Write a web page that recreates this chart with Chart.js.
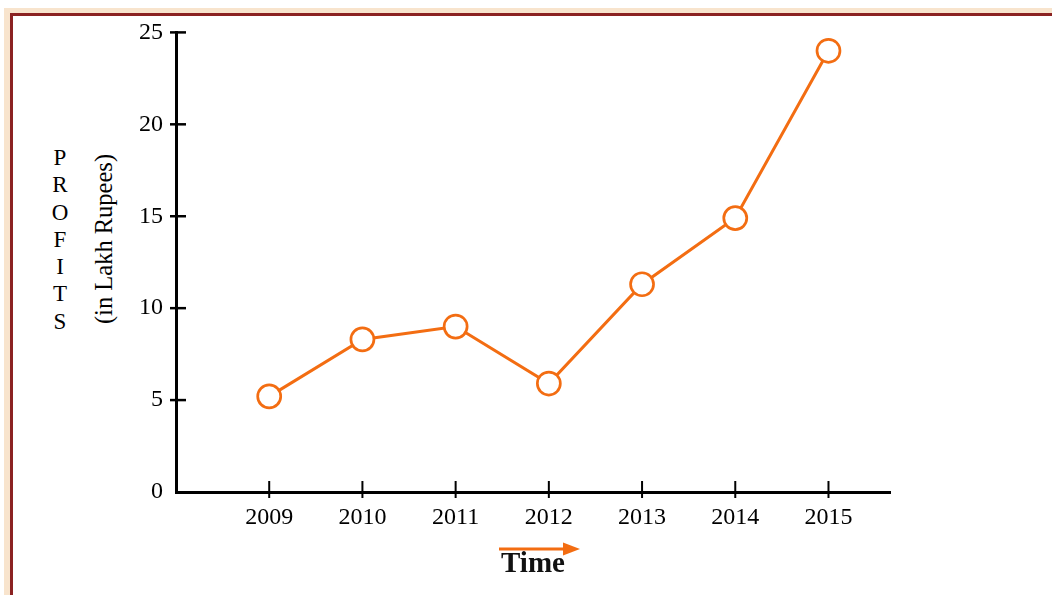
<!DOCTYPE html>
<html>
<head>
<meta charset="utf-8">
<title>Profits</title>
<script src="https://cdn.jsdelivr.net/npm/chart.js@4.4.0/dist/chart.umd.min.js"></script>
<style>
	body { margin: 0; width: 1052px; height: 595px; overflow: hidden; background: #fff; position: relative; font-family: "Liberation Serif", serif; }
	#band { position: absolute; left: 4px; top: 8px; width: 1200px; height: 700px; background: #f8e4cd; }
	#box { position: absolute; left: 10px; top: 13px; width: 1200px; height: 700px; background: #fff; border: 3px solid #8b2222; box-sizing: border-box; }
	#wrap { position: absolute; left: 13px; top: 16px; width: 1039px; height: 579px; }
	#profits { position: absolute; left: 48px; top: 144px; width: 24px; text-align: center; font-size: 23px; line-height: 27.3px; color: #000; }
	#unit { position: absolute; left: 104px; top: 239px; transform: translate(-50%, -50%) rotate(-90deg); font-size: 24.5px; white-space: nowrap; color: #000; }
</style>
</head>
<body>
<div id="band"></div>
<div id="box"></div>
<div id="profits">P<br>R<br>O<br>F<br>I<br>T<br>S</div>
<div id="unit">(in Lakh Rupees)</div>
<div id="wrap"><canvas id="profitChart"></canvas></div>

<script>
// data
const years = [2009, 2010, 2011, 2012, 2013, 2014, 2015];
const profits = [5.2, 8.3, 9, 5.9, 11.3, 14.9, 24];
const yTicks = [0, 5, 10, 15, 20, 25];
const xTitle = 'Time';

const orange = '#f36d12';

// tick marks that cross the axis line, plus the arrow above "Time"
const axisMarks = {
	id: 'axisMarks',
	afterDraw(chart) {
		const ctx = chart.ctx;
		const xs = chart.scales.x;
		const ys = chart.scales.y;
		const line = (x1, y1, x2, y2) => {
			ctx.beginPath();
			ctx.moveTo(x1, y1);
			ctx.lineTo(x2, y2);
			ctx.stroke();
		};
		ctx.save();
		ctx.strokeStyle = '#000';
		ctx.lineWidth = 2.5;
		ys.ticks.forEach(t => {
			if (t.value === 0) return;
			const py = ys.getPixelForValue(t.value);
			line(xs.left - 6, py, xs.left + 10, py);
		});
		ctx.lineWidth = 2;
		xs.ticks.forEach(t => {
			const px = xs.getPixelForValue(t.value);
			line(px, ys.bottom - 11, px, ys.bottom + 6);
		});

		// arrow
		const cx = (xs.left + xs.right) / 2;
		const ay = xs.bottom - 46;
		ctx.strokeStyle = orange;
		ctx.fillStyle = orange;
		ctx.lineWidth = 3;
		line(cx - 34, ay, cx + 32, ay);
		ctx.beginPath();
		ctx.moveTo(cx + 30, ay - 6.5);
		ctx.lineTo(cx + 47, ay);
		ctx.lineTo(cx + 30, ay + 6.5);
		ctx.closePath();
		ctx.fill();
		ctx.restore();
	}
};

const profitChart = new Chart(document.getElementById('profitChart'), {
	type: 'line',
	data: {
		datasets: [{
			label: 'Profits',
			data: years.map((yr, i) => ({ x: yr, y: profits[i] })),
			borderColor: orange,
			borderWidth: 3,
			pointRadius: 11.5,
			pointBorderWidth: 2.7,
			pointBackgroundColor: '#fff',
			pointBorderColor: orange,
			tension: 0,
			clip: false
		}]
	},
	options: {
		responsive: true,
		maintainAspectRatio: false,
		animation: false,
		events: [],
		layout: { padding: { top: 0, right: 162, left: 0, bottom: 0 } },
		plugins: {
			legend: { display: false },
			tooltip: { enabled: false }
		},
		scales: {
			x: {
				type: 'linear',
				min: 2008,
				max: 2015.66,
				afterBuildTicks: scale => { scale.ticks = years.map(v => ({ value: v })); },
				afterFit: scale => { scale.height = 103; },
				grid: { display: false },
				border: { display: true, color: '#000', width: 3 },
				ticks: {
					font: { family: 'Liberation Serif', size: 24 },
					color: '#000',
					padding: 3,
					maxRotation: 0,
					autoSkip: false,
					callback: v => String(v)
				},
				title: {
					display: true,
					text: xTitle,
					color: '#111',
					font: { family: 'Liberation Serif', size: 29, weight: 'bold' },
					padding: { top: 0, bottom: 13 }
				}
			},
			y: {
				min: 0,
				max: 25,
				afterBuildTicks: scale => { scale.ticks = yTicks.map(v => ({ value: v })); },
				afterFit: scale => { scale.width = 163; },
				grid: { display: false },
				border: { display: true, color: '#000', width: 3 },
				ticks: {
					font: { family: 'Liberation Serif', size: 24, lineHeight: 0.95 },
					color: '#000',
					padding: 5
				}
			}
		}
	},
	plugins: [axisMarks]
});
</script>
</body>
</html>
